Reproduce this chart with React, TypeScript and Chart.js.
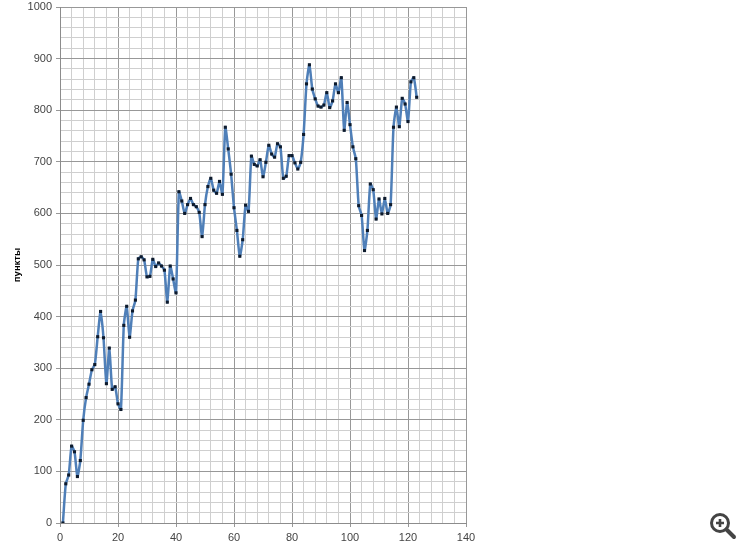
import React, { useEffect, useRef } from "react";
import { Chart, registerables } from "chart.js";

Chart.register(...registerables);

const seriesValues: number[] = [
  0, 76, 93, 149, 138, 90, 121, 199, 243, 269,
  297, 307, 361, 410, 359, 270, 339, 259, 264, 231,
  220, 383, 420, 360, 411, 432, 512, 516, 510, 477,
  478, 511, 497, 504, 498, 490, 428, 498, 473, 446,
  642, 624, 600, 617, 629, 617, 613, 602, 555, 617,
  652, 668, 645, 639, 662, 637, 767, 725, 676, 611,
  567, 517, 549, 616, 604, 711, 695, 692, 704, 671,
  699, 732, 715, 709, 735, 729, 668, 672, 712, 712,
  698, 686, 699, 753, 851, 888, 841, 822, 808, 806,
  810, 834, 805, 818, 851, 834, 863, 761, 815, 772,
  729, 706, 615, 596, 528, 567, 657, 646, 589, 628,
  599, 629, 600, 617, 767, 806, 768, 823, 812, 778,
  855, 863, 825,
];
const axisTitle = "пункты";
const xMax = 140;
const yMax = 1000;
const xMinorStep = 4;
const xMajorStep = 20;
const yMinorStep = 20;
const yMajorStep = 100;

const FONT = "'Liberation Sans', Arial, sans-serif";

export default function App() {
  const ref = useRef<HTMLCanvasElement | null>(null);

  useEffect(() => {
    if (!ref.current) return;
    document.body.style.margin = "0";
    const isMajor = (v: number, step: number) => Math.abs(v % step) < 1e-6;
    const chart = new Chart(ref.current, {
      type: "line",
      data: {
        datasets: [
          {
            data: seriesValues.map((y, i) => ({ x: i + 1, y })),
            borderColor: "#4f7fb8",
            borderWidth: 2.5,
            tension: 0.2,
            pointStyle: "rect",
            pointRadius: 2.2,
            pointBackgroundColor: "#0d1a2c",
            pointBorderColor: "#0d1a2c",
            pointBorderWidth: 0,
          },
        ],
      },
      options: {
        animation: false,
        responsive: false,
        devicePixelRatio: 1,
        layout: { padding: { top: 7, right: 284, left: 0, bottom: 0 } },
        plugins: { legend: { display: false }, tooltip: { enabled: false } },
        scales: {
          x: {
            type: "linear",
            min: 0,
            max: xMax,
            afterFit: (s: any) => {
              s.height = 29;
              s.paddingLeft = 0;
              s.paddingRight = 0;
            },
            border: { color: "#8c8c8c" },
            grid: {
              color: (c: any) => (isMajor(c.tick.value, xMajorStep) ? "#989898" : "#cfcfcf"),
              tickColor: (c: any) => (isMajor(c.tick.value, xMajorStep) ? "#989898" : "transparent"),
              tickLength: 4,
            },
            ticks: {
              stepSize: xMinorStep,
              autoSkip: false,
              maxRotation: 0,
              padding: 4,
              color: "#444444",
              font: { family: FONT, size: 11 },
              callback: (v: any) => (isMajor(Number(v), xMajorStep) ? String(v) : ""),
            },
          },
          y: {
            type: "linear",
            min: 0,
            max: yMax,
            afterFit: (s: any) => {
              s.width = 60;
              s.paddingTop = 0;
              s.paddingBottom = 0;
            },
            border: { color: "#8c8c8c" },
            title: {
              display: true,
              text: axisTitle,
              color: "#000000",
              font: { family: FONT, size: 9.5, weight: "bold" },
              padding: { top: 12, bottom: 0 },
            },
            grid: {
              color: (c: any) => (isMajor(c.tick.value, yMajorStep) ? "#989898" : "#cfcfcf"),
              tickColor: (c: any) => (isMajor(c.tick.value, yMajorStep) ? "#989898" : "transparent"),
              tickLength: 4,
            },
            ticks: {
              stepSize: yMinorStep,
              autoSkip: false,
              padding: 4,
              color: "#444444",
              font: { family: FONT, size: 11 },
              callback: (v: any) => (isMajor(Number(v), yMajorStep) ? String(v) : ""),
            },
          },
        },
      },
    });
    return () => chart.destroy();
  }, []);

  return (
    <div style={{ position: "absolute", left: 0, top: 0, width: 750, height: 552, background: "#fff", overflow: "hidden" }}>
      <canvas ref={ref} width={750} height={552} style={{ display: "block", width: 750, height: 552, filter: "blur(0.45px)" }} />
      <svg width={30} height={30} viewBox="0 0 30 30" style={{ position: "absolute", left: 707, top: 511 }}>
        <circle cx={13} cy={12} r={8.5} fill="none" stroke="#444" strokeWidth={3} />
        <path d="M19.5 18.5 L27 26" stroke="#444" strokeWidth={4} strokeLinecap="round" />
        <path d="M13 8 V16 M9 12 H17" stroke="#444" strokeWidth={2.6} />
      </svg>
    </div>
  );
}
